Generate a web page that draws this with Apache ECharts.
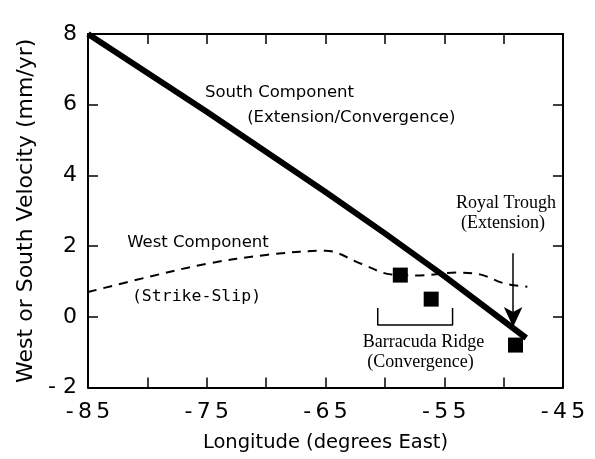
<!DOCTYPE html>
<html><head><meta charset="utf-8">
<script src="https://cdn.jsdelivr.net/npm/echarts@6/dist/echarts.min.js"></script>
<style>html,body{margin:0;padding:0;background:#fff}#c{width:595px;height:459px}</style>
</head><body><div id="c"></div>
<script>
// South component (thick solid line)
const southLon = [-85, -75, -65, -60, -55, -48.1];
const southVel = [8, 5.8, 3.53, 2.36, 1.15, -0.6];
// West component (dashed line)
const westLon = [-85, -80, -75, -70, -65, -62, -59.5, -57, -54, -52, -50, -48];
const westVel = [0.7, 1.12, 1.5, 1.75, 1.87, 1.5, 1.2, 1.17, 1.25, 1.2, 0.95, 0.85];
// Observed values (squares)
const obsLon = [-58.7, -56.1, -49.0];
const obsVel = [1.18, 0.5, -0.8];
// Barracuda Ridge bracket
const bracketLon = [-60.6, -60.6, -54.3, -54.3];
const bracketVel = [0.25, -0.23, -0.23, 0.25];
// Royal Trough arrow
const arrowLon = [-49.2, -49.2];
const arrowVel = [1.8, -0.29];
// Axis ticks
const xMin = -85, xMax = -45, xStep = 5;
const xLabelValues = [-85, -75, -65, -55, -45];
const yMin = -2, yMax = 8, yStep = 2;
// Annotation texts and anchors (data coordinates)
const noteText = ['South Component', '(Extension/Convergence)', 'West Component', '(Strike-Slip)',
                  'Royal Trough', '(Extension)', 'Barracuda Ridge', '(Convergence)'];
const noteLon = [-75.15, -71.6, -81.7, -81.3, -49.8, -50.05, -56.75, -57.0];
const noteVel = [6.33, 5.62, 2.09, 0.56, 3.22, 2.66, -0.71, -1.28];
const noteStyle = ['sansL', 'sansL', 'sansL', 'monoL', 'serifC', 'serifC', 'serifC', 'serifC'];

const zip = (a, b) => a.map((v, i) => [v, b[i]]);
const styles = {
  sansL: {fontFamily: 'DejaVu Sans', fontSize: 16.5, align: 'left'},
  monoL: {fontFamily: 'DejaVu Sans Mono', fontSize: 16.5, align: 'left'},
  serifC: {fontFamily: 'Liberation Serif', fontSize: 18, align: 'center'}
};
const noteData = noteText.map((t, i) => ({
  value: [noteLon[i], noteVel[i]],
  label: Object.assign({show: true, formatter: t, position: 'inside', verticalAlign: 'middle', color: '#000', opacity: 1}, styles[noteStyle[i]])
}));

const chart = echarts.init(document.getElementById('c'), null, {renderer: 'canvas'});
const axisLine = {show: true, onZero: false, lineStyle: {color: '#000', width: 2}};
const axisTick = {show: true, inside: true, length: 10, lineStyle: {color: '#000', width: 1.5}};
chart.setOption({
  animation: false,
  backgroundColor: '#fff',
  grid: {left: 88, right: 32, top: 34, bottom: 71.5, containLabel: false},
  xAxis: [{
    type: 'value', min: xMin, max: xMax, interval: xStep, position: 'bottom',
    axisLine, axisTick, splitLine: {show: false},
    axisLabel: {
      margin: 14, color: '#000', fontFamily: 'DejaVu Sans', fontSize: 22,
      formatter: v => xLabelValues.indexOf(v) >= 0 ? String(v).split('').join('\u2009') : ''
    },
    name: 'Longitude (degrees East)', nameLocation: 'middle', nameGap: 45,
    nameTextStyle: {color: '#000', fontFamily: 'DejaVu Sans', fontSize: 19.5}
  }, {
    type: 'value', min: xMin, max: xMax, interval: xStep, position: 'top',
    axisLine, axisTick, axisLabel: {show: false}, splitLine: {show: false}
  }],
  yAxis: [{
    type: 'value', min: yMin, max: yMax, interval: yStep, position: 'left',
    axisLine, axisTick, splitLine: {show: false},
    axisLabel: {
      margin: 11, color: '#000', fontFamily: 'DejaVu Sans', fontSize: 22,
      formatter: v => String(v).replace('-', '- ')
    },
    name: 'West or South Velocity (mm/yr)', nameLocation: 'middle', nameGap: 43, nameRotate: 90,
    nameTextStyle: {color: '#000', fontFamily: 'DejaVu Sans', fontSize: 22}
  }, {
    type: 'value', min: yMin, max: yMax, interval: yStep, position: 'right',
    axisLine, axisTick, axisLabel: {show: false}, splitLine: {show: false}
  }],
  series: [{
    name: 'West Component', type: 'line', data: zip(westLon, westVel), smooth: 0.35,
    showSymbol: false, lineStyle: {color: '#000', width: 2, type: [9, 7]}, z: 2
  }, {
    name: 'South Component', type: 'line', data: zip(southLon, southVel),
    showSymbol: false, lineStyle: {color: '#000', width: 6, cap: 'butt', join: 'miter'}, z: 3
  }, {
    name: 'Observed', type: 'scatter', data: zip(obsLon, obsVel), symbol: 'rect', symbolSize: 15,
    itemStyle: {color: '#000', opacity: 1}, z: 4
  }, {
    name: 'Bracket', type: 'line', data: zip(bracketLon, bracketVel), showSymbol: false,
    lineStyle: {color: '#000', width: 1.5}, z: 2
  }, {
    name: 'Arrow', type: 'line', data: [], showSymbol: false,
    markLine: {
      silent: true, animation: false, label: {show: false},
      lineStyle: {color: '#000', width: 1.5, type: 'solid'},
      symbolSize: [14, 20],
      data: [[{coord: [arrowLon[0], arrowVel[0]], symbol: 'none'},
              {coord: [arrowLon[1], arrowVel[1]], symbol: 'arrow'}]]
    }
  }, {
    name: 'Notes', type: 'scatter', data: noteData, symbolSize: 0,
    itemStyle: {color: '#000', opacity: 1}, z: 5
  }]
});
</script></body></html>
